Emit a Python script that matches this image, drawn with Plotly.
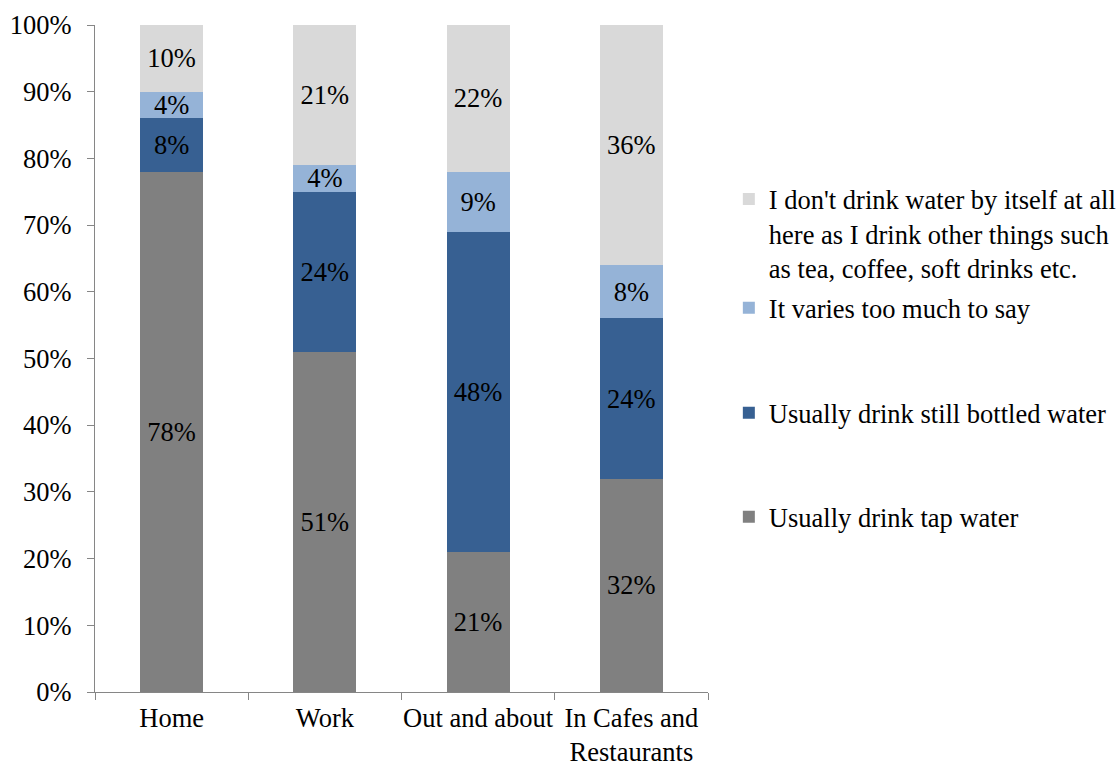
import plotly.graph_objects as go

categories = ["Home", "Work", "Out and about", "In Cafes and<br>Restaurants"]
tap_water = [78, 51, 21, 32]
still_bottled = [8, 24, 48, 24]
varies = [4, 4, 9, 8]
dont_drink = [10, 21, 22, 36]
y_ticks = [0, 10, 20, 30, 40, 50, 60, 70, 80, 90, 100]
y_tick_labels = [f"{t}%" for t in y_ticks]

series_names = [
    "Usually drink tap water",
    "Usually drink still bottled water",
    "It varies too much to say",
    "I don't drink water by itself at all<br>here as I drink other things such<br>as tea, coffee, soft drinks etc.",
]
series_values = [tap_water, still_bottled, varies, dont_drink]
colors = ["#808080", "#376092", "#95B3D7", "#D9D9D9"]
legend_ids = ["legend4", "legend3", "legend2", "legend"]

FONT = "Times New Roman, Liberation Serif, DejaVu Serif, serif"
FS = 26.5

fig = go.Figure()
for name, vals, col, lg in zip(series_names, series_values, colors, legend_ids):
    fig.add_trace(go.Bar(
        x=categories, y=vals, name=name, marker=dict(color=col, line=dict(width=0)),
        text=[f"{v}%" for v in vals], textposition="inside", insidetextanchor="middle",
        textfont=dict(family=FONT, size=FS, color="black"),
        legend=lg, showlegend=True,
    ))

axis_col = "#868686"
leg_x = 1.034
common_leg = dict(x=leg_x, xanchor="left", yanchor="middle", bgcolor="rgba(0,0,0,0)",
                  font=dict(family=FONT, size=FS, color="black"), valign="top")

fig.update_layout(
    width=1120, height=763,
    margin=dict(l=95, r=412, t=25, b=71, autoexpand=False),
    barmode="stack", bargap=0.59, showlegend=True,
    plot_bgcolor="white", paper_bgcolor="white",
    font=dict(family=FONT, size=FS, color="black"),
    uniformtext=dict(minsize=FS, mode="show"),
    xaxis=dict(showline=True, linecolor=axis_col, linewidth=1, ticks="outside", ticklen=7,
               tickcolor=axis_col, tickson="boundaries", showgrid=False, tickangle=0,
               automargin=False, ticklabelstandoff=2,
               tickfont=dict(family=FONT, size=FS, color="black")),
    yaxis=dict(range=[0, 100], tickmode="array", tickvals=y_ticks, ticktext=y_tick_labels,
               showline=True, linecolor=axis_col, linewidth=1, ticks="outside", ticklen=7,
               tickcolor=axis_col, showgrid=False, zeroline=False, automargin=False,
               ticklabelstandoff=10,
               tickfont=dict(family=FONT, size=FS, color="black")),
    legend=dict(y=0.687, **common_leg),
    legend2=dict(y=0.5757, **common_leg),
    legend3=dict(y=0.4183, **common_leg),
    legend4=dict(y=0.2624, **common_leg),
)

fig.write_html("out.html", config={"displayModeBar": False},
               post_script="document.body.style.margin='0';")
